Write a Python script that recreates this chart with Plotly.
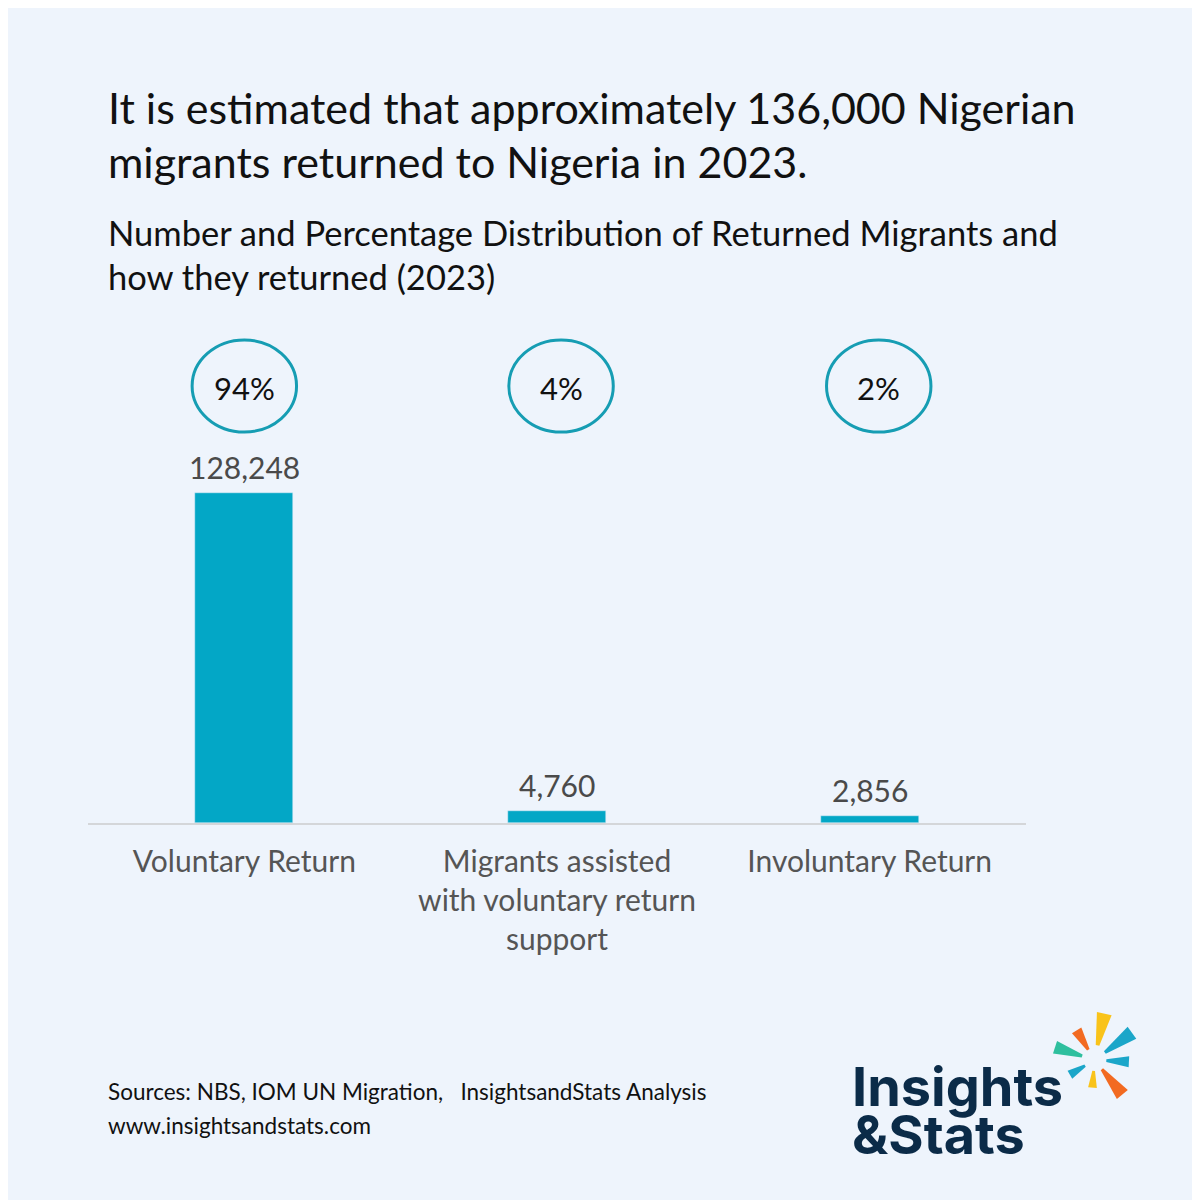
import math
import plotly.graph_objects as go

# data
categories = ["Voluntary Return", "Migrants assisted<br>with voluntary return<br>support", "Involuntary Return"]
returned = [128248, 4760, 2856]
shares = ["94%", "4%", "2%"]

title_lines = ["It is estimated that approximately 136,000 Nigerian",
               "migrants returned to Nigeria in 2023."]
subtitle_lines = ["Number and Percentage Distribution of Returned Migrants and",
                  "how they returned (2023)"]
source_lines = ["Sources: NBS, IOM UN Migration,&nbsp;&nbsp; InsightsandStats Analysis",
                "www.insightsandstats.com"]

BG = "#EEF4FC"
BAR = "#03A7C6"
RING = "#169DB3"
FONT = "Lato, 'Noto Sans', sans-serif"

# page offset (body margin) and plot area, in page pixels
OFF = 8
W = H = 1192
L, R, T, B = 87.5 - OFF, 1026.5 - OFF, 330 - OFF, 823 - OFF


def px(x):
    return (x - OFF - L) / (R - L)


def py(y):
    return (B - (y - OFF)) / (B - T)


fig = go.Figure()
fig.add_trace(go.Bar(x=categories, y=returned, marker_color=BAR, width=0.313,
                     hoverinfo="skip", showlegend=False))

ann = []
shapes = []

# value labels above bars
for i, v in enumerate(returned):
    ann.append(dict(x=categories[i], y=v, xref="x", yref="y", yanchor="bottom", yshift=6,
                    text=f"{v:,}", showarrow=False,
                    font=dict(family=FONT, size=30, color="#4A4A4A")))

# percent rings
ring_shift = [0.0, 0.013, 0.029]
for i, s in enumerate(shares):
    cx = i + ring_shift[i]
    shapes.append(dict(type="circle", xref="x", yref="paper", x0=cx - 0.167, x1=cx + 0.167,
                       y0=py(432), y1=py(340), line=dict(color=RING, width=3)))
    ann.append(dict(x=cx, y=py(388), xref="x", yref="paper", yanchor="middle",
                    text=s, showarrow=False, font=dict(family=FONT, size=31, color="#111111")))

# titles
for text, y, size in [(title_lines[0], 107, 43), (title_lines[1], 162, 43),
                      (subtitle_lines[0], 233, 34.5), (subtitle_lines[1], 276, 34.5)]:
    ann.append(dict(x=px(106), y=py(y), xref="paper", yref="paper", xanchor="left", yanchor="middle",
                    text=text, showarrow=False, font=dict(family=FONT, size=size, color="#111111")))

# sources
for text, y in [(source_lines[0], 1091), (source_lines[1], 1125)]:
    ann.append(dict(x=px(106), y=py(y), xref="paper", yref="paper", xanchor="left", yanchor="middle",
                    text=text, showarrow=False, font=dict(family=FONT, size=22.5, color="#111111")))

# logo text
for text, y in [("Insights", 1086), ("&Stats", 1134)]:
    ann.append(dict(x=px(850), y=py(y), xref="paper", yref="paper", xanchor="left", yanchor="middle",
                    text=text, showarrow=False,
                    font=dict(family="Inter, Lato, sans-serif", size=54, color="#0B2B48", weight=700)))

# logo starburst
cxp, cyp = 1095, 1060
rays = [(78, 15, 48, "#F9C31A"), (36, 13, 47, "#1BA6C9"), (162, 13, 42, "#2EBF9E"),
        (121, 12, 35, "#F26A21"), (-3, 12, 35, "#1BA6C9"), (211, 11, 29, "#1BA6C9"),
        (266, 11, 28, "#F9C31A"), (-51, 12, 45, "#F26A21")]
for ang, r0, r1, col in rays:
    pts = []
    for a, r in [(ang - 7, r0), (ang + 7, r0), (ang + 9, r1), (ang - 9, r1)]:
        t = math.radians(a)
        pts.append((px(cxp + r * math.cos(t)), py(cyp - r * math.sin(t))))
    path = "M " + " L ".join(f"{x:.5f},{y:.5f}" for x, y in pts) + " Z"
    shapes.append(dict(type="path", xref="paper", yref="paper", path=path,
                       fillcolor=col, line=dict(width=0)))

fig.update_layout(
    width=W, height=H,
    margin=dict(l=L, r=W - R, t=T, b=H - B),
    paper_bgcolor=BG, plot_bgcolor=BG,
    annotations=ann, shapes=shapes,
    bargap=0,
    font=dict(family=FONT),
)
fig.update_xaxes(range=[-0.5, 2.5], showline=True, linecolor="#D4D6D9", linewidth=2,
                 ticks="outside", ticklen=11, tickcolor="rgba(0,0,0,0)",
                 tickfont=dict(family=FONT, size=30, color="#555555"), showgrid=False)
fig.update_yaxes(range=[0, 128248 * (B - T) / 330], visible=False, showgrid=False)

fig.write_html("out.html")
